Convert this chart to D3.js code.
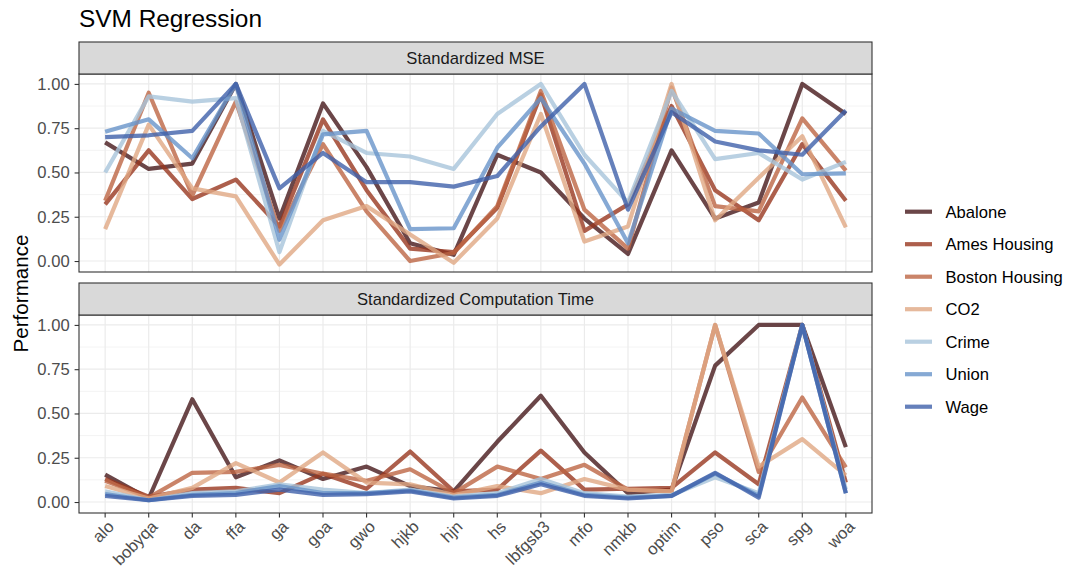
<!DOCTYPE html>
<html>
<head>
<meta charset="utf-8">
<script src="https://cdn.jsdelivr.net/npm/d3@7"></script>
<style>
  body { margin: 0; background: #fff; }
  svg text { font-family: "Liberation Sans", Arial, Helvetica, sans-serif; }
</style>
</head>
<body>
<div id="d3-container"></div>
<script>
/**
 * DATA
 * */
const optimizers = ["alo", "bobyqa", "da", "ffa", "ga", "goa", "gwo", "hjkb", "hjn",
  "hs", "lbfgsb3", "mfo", "nmkb", "optim", "pso", "sca", "spg", "woa"];
const datasets = ["Abalone", "Ames Housing", "Boston Housing", "CO2", "Crime", "Union", "Wage"];
const facets = ["Standardized MSE", "Standardized Computation Time"];
const yTicks = [0, 0.25, 0.5, 0.75, 1];

// one row per dataset, one value per optimizer
const mseValues = [
  [0.67, 0.52, 0.55, 1.00, 0.24, 0.89, 0.53, 0.10, 0.035, 0.60, 0.50, 0.24, 0.04, 0.625, 0.24, 0.33, 1.00, 0.83],   // Abalone
  [0.32, 0.625, 0.35, 0.46, 0.195, 0.80, 0.40, 0.07, 0.05, 0.30, 0.94, 0.17, 0.32, 0.875, 0.40, 0.23, 0.66, 0.34],  // Ames Housing
  [0.34, 0.95, 0.37, 0.90, 0.17, 0.66, 0.28, 0.00, 0.045, 0.31, 0.96, 0.29, 0.07, 0.98, 0.31, 0.28, 0.805, 0.51],   // Boston Housing
  [0.18, 0.77, 0.41, 0.365, -0.02, 0.23, 0.31, 0.15, -0.01, 0.24, 0.83, 0.11, 0.195, 1.00, 0.23, 0.47, 0.705, 0.19], // CO2
  [0.50, 0.93, 0.90, 0.92, 0.05, 0.735, 0.61, 0.59, 0.52, 0.83, 1.00, 0.60, 0.33, 0.96, 0.575, 0.61, 0.46, 0.56],   // Crime
  [0.73, 0.80, 0.58, 1.00, 0.12, 0.715, 0.735, 0.18, 0.185, 0.64, 0.92, 0.55, 0.10, 0.86, 0.735, 0.72, 0.49, 0.495], // Union
  [0.70, 0.71, 0.735, 1.00, 0.41, 0.61, 0.445, 0.445, 0.42, 0.48, 0.76, 1.00, 0.29, 0.84, 0.675, 0.625, 0.60, 0.85]  // Wage
];
const timeValues = [
  [0.155, 0.02, 0.58, 0.14, 0.235, 0.13, 0.20, 0.09, 0.06, 0.34, 0.60, 0.28, 0.05, 0.07, 0.77, 1.00, 1.00, 0.31],    // Abalone
  [0.13, 0.03, 0.07, 0.08, 0.05, 0.16, 0.075, 0.285, 0.06, 0.07, 0.29, 0.07, 0.075, 0.08, 0.28, 0.10, 1.00, 0.11],  // Ames Housing
  [0.12, 0.025, 0.165, 0.17, 0.21, 0.16, 0.12, 0.185, 0.05, 0.20, 0.13, 0.21, 0.07, 0.06, 1.00, 0.17, 0.59, 0.195], // Boston Housing
  [0.09, 0.02, 0.08, 0.22, 0.11, 0.28, 0.11, 0.10, 0.04, 0.09, 0.05, 0.13, 0.07, 0.06, 1.00, 0.20, 0.355, 0.15],    // CO2
  [0.06, 0.01, 0.05, 0.06, 0.10, 0.07, 0.05, 0.07, 0.03, 0.05, 0.13, 0.05, 0.03, 0.04, 0.14, 0.05, 1.00, 0.07],     // Crime
  [0.045, 0.01, 0.04, 0.05, 0.09, 0.05, 0.05, 0.065, 0.025, 0.04, 0.11, 0.04, 0.025, 0.035, 0.16, 0.035, 1.00, 0.05], // Union
  [0.035, 0.01, 0.035, 0.04, 0.07, 0.04, 0.045, 0.06, 0.02, 0.035, 0.10, 0.035, 0.02, 0.035, 0.165, 0.025, 1.00, 0.05] // Wage
];

/**
 * CONSTANTS
 * */
const width = 1068, height = 569;
const panelLeft = 79, panelRight = 872;
const panels = [
  { strip: 42, top: 74, bottom: 272, values: mseValues },
  { strip: 283, top: 315, bottom: 513, values: timeValues }
];
const colors = ["#46181a", "#98371f", "#bd6544", "#e0a883", "#a8c4db", "#6894c9", "#3e60aa"];
const gridColor = "#ebebeb", borderColor = "#333333";
const smallFont = 16.6;

const svg = d3.select("#d3-container")
  .append("svg")
  .attr("width", width)
  .attr("height", height)
  .attr("viewBox", "0 0 " + width + " " + height);

const x = d3.scalePoint()
  .domain(optimizers)
  .range([panelLeft, panelRight])
  .padding(0.6);

const color = d3.scaleOrdinal().domain(datasets).range(colors);

// title
svg.append("text")
  .attr("x", panelLeft)
  .attr("y", 27)
  .attr("font-size", 24.4)
  .attr("fill", "#000")
  .text("SVM Regression");

// y axis title
svg.append("text")
  .attr("transform", "translate(28," + (74 + 513) / 2 + ") rotate(-90)")
  .attr("text-anchor", "middle")
  .attr("font-size", 20.6)
  .attr("fill", "#000")
  .text("Performance");

panels.forEach(function(p, i) {
  const y = d3.scaleLinear()
    .domain([-0.062, 1.056])
    .range([p.bottom, p.top]);

  const g = svg.append("g").attr("class", "panel");

  // minor + major grid
  g.selectAll("line.minor")
    .data(d3.range(0, 4).map(k => 0.125 + k * 0.25))
    .join("line")
    .attr("x1", panelLeft).attr("x2", panelRight)
    .attr("y1", d => y(d)).attr("y2", d => y(d))
    .attr("stroke", gridColor)
    .attr("stroke-width", 0.6);
  g.selectAll("line.major")
    .data(yTicks)
    .join("line")
    .attr("x1", panelLeft).attr("x2", panelRight)
    .attr("y1", d => y(d)).attr("y2", d => y(d))
    .attr("stroke", gridColor)
    .attr("stroke-width", 1.2);
  g.selectAll("line.xgrid")
    .data(optimizers)
    .join("line")
    .attr("x1", d => x(d)).attr("x2", d => x(d))
    .attr("y1", p.top).attr("y2", p.bottom)
    .attr("stroke", gridColor)
    .attr("stroke-width", 1.2);

  const line = d3.line()
    .x((d, j) => x(optimizers[j]))
    .y(d => y(d));

  g.selectAll("path.series")
    .data(p.values)
    .join("path")
    .attr("class", "series")
    .attr("d", d => line(d))
    .attr("fill", "none")
    .attr("stroke", (d, j) => color(datasets[j]))
    .attr("stroke-opacity", 0.8)
    .attr("stroke-width", 4.2)
    .attr("stroke-linejoin", "round");

  // panel border
  g.append("rect")
    .attr("x", panelLeft).attr("y", p.top)
    .attr("width", panelRight - panelLeft)
    .attr("height", p.bottom - p.top)
    .attr("fill", "none")
    .attr("stroke", borderColor)
    .attr("stroke-width", 1.1);

  // strip
  g.append("rect")
    .attr("x", panelLeft).attr("y", p.strip)
    .attr("width", panelRight - panelLeft)
    .attr("height", p.top - p.strip)
    .attr("fill", "#d9d9d9")
    .attr("stroke", borderColor)
    .attr("stroke-width", 1.1);
  g.append("text")
    .attr("x", (panelLeft + panelRight) / 2)
    .attr("y", (p.strip + p.top) / 2)
    .attr("dy", "0.35em")
    .attr("text-anchor", "middle")
    .attr("font-size", smallFont)
    .attr("fill", "#1a1a1a")
    .text(facets[i]);

  // y axis
  const yAxis = g.append("g")
    .attr("transform", "translate(" + panelLeft + ",0)")
    .call(d3.axisLeft(y).tickValues(yTicks).tickFormat(d3.format(".2f")).tickSize(4.4).tickPadding(5));
  yAxis.select(".domain").remove();
  yAxis.selectAll(".tick line").attr("stroke", borderColor).attr("stroke-width", 1.1);
  yAxis.selectAll(".tick text")
    .attr("font-size", smallFont)
    .attr("font-family", null)
    .attr("fill", "#4d4d4d");
});

// x axis, bottom panel only
const xAxis = svg.append("g")
  .attr("transform", "translate(0," + panels[1].bottom + ")");
xAxis.selectAll("line")
  .data(optimizers)
  .join("line")
  .attr("x1", d => x(d)).attr("x2", d => x(d))
  .attr("y1", 0).attr("y2", 4.4)
  .attr("stroke", borderColor)
  .attr("stroke-width", 1.1);
xAxis.selectAll("text")
  .data(optimizers)
  .join("text")
  .attr("transform", d => "translate(" + (x(d) + 1) + ",6) rotate(-45)")
  .attr("dy", "0.75em")
  .attr("text-anchor", "end")
  .attr("font-size", smallFont)
  .attr("fill", "#4d4d4d")
  .text(d => d);

// legend
const legend = svg.selectAll("g.legend")
  .data(datasets)
  .join("g")
  .attr("class", "legend")
  .attr("transform", (d, i) => "translate(905," + (211.7 + i * 32.5) + ")");
legend.append("line")
  .attr("x1", 0).attr("x2", 27)
  .attr("y1", 0).attr("y2", 0)
  .attr("stroke", d => color(d))
  .attr("stroke-opacity", 0.8)
  .attr("stroke-width", 4.2);
legend.append("text")
  .attr("x", 40.5)
  .attr("dy", "0.35em")
  .attr("font-size", smallFont)
  .attr("fill", "#000")
  .text(d => d);
</script>
</body>
</html>
